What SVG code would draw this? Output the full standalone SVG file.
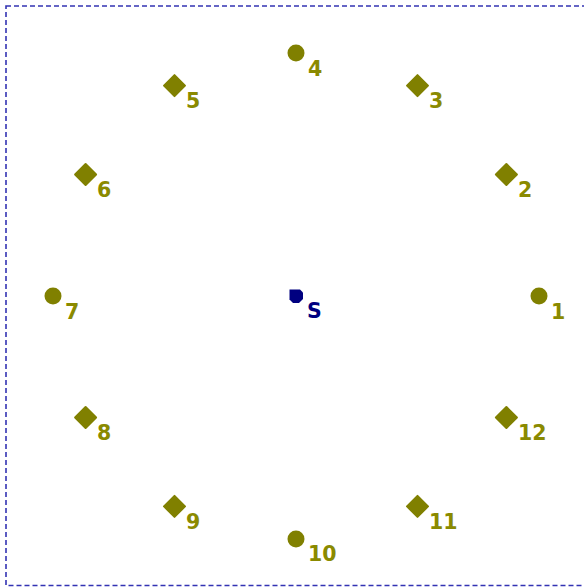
<svg xmlns="http://www.w3.org/2000/svg" width="584" height="587" viewBox="0 0 584 587">
<style>
.n{fill:#808000}
.l{fill:#8a8a00;font-family:"DejaVu Sans",Verdana,sans-serif;font-weight:bold;font-size:20.5px}
.s{fill:#000080}
.ls{fill:#000080;font-family:"DejaVu Sans",Verdana,sans-serif;font-weight:bold;font-size:20.5px}
</style>
<defs>
<path id="dia" d="M0,-10.5 L10.5,0 L0,10.5 L-10.5,0 Z" stroke="#808000" stroke-width="2" stroke-linejoin="round"/>
</defs>
<rect x="6" y="6" width="590" height="579.5" fill="none" stroke="#3333b3" stroke-width="1.6" stroke-dasharray="5,3"/>
<g id="connectors"></g>
<g id="nS"><path class="s" d="M289.5,289.5 L300,289.5 L303,292.5 L303,299 L299,303 L293,303 L289.5,299.5 Z"/><text class="ls" x="307" y="318">S</text></g>
<g id="n1"><circle class="n" cx="539" cy="296" r="8.5"/><text class="l" x="551" y="318.5">1</text></g>
<g id="n2"><use href="#dia" class="n" x="506.4" y="174.5"/><text class="l" x="518" y="197">2</text></g>
<g id="n3"><use href="#dia" class="n" x="417.5" y="85.6"/><text class="l" x="429" y="108">3</text></g>
<g id="n4"><circle class="n" cx="296" cy="53" r="8.5"/><text class="l" x="308" y="76">4</text></g>
<g id="n5"><use href="#dia" class="n" x="174.5" y="85.6"/><text class="l" x="186" y="108">5</text></g>
<g id="n6"><use href="#dia" class="n" x="85.6" y="174.5"/><text class="l" x="97" y="197">6</text></g>
<g id="n7"><circle class="n" cx="53" cy="296" r="8.5"/><text class="l" x="65" y="318.5">7</text></g>
<g id="n8"><use href="#dia" class="n" x="85.6" y="417.5"/><text class="l" x="97" y="440">8</text></g>
<g id="n9"><use href="#dia" class="n" x="174.5" y="506.4"/><text class="l" x="186" y="529">9</text></g>
<g id="n10"><circle class="n" cx="296" cy="539" r="8.5"/><text class="l" x="308" y="561">10</text></g>
<g id="n11"><use href="#dia" class="n" x="417.5" y="506.4"/><text class="l" x="429" y="529">11</text></g>
<g id="n12"><use href="#dia" class="n" x="506.4" y="417.5"/><text class="l" x="518" y="440">12</text></g>
</svg>
